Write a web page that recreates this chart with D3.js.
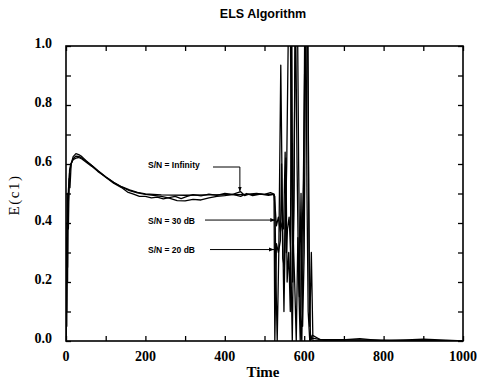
<!DOCTYPE html>
<html><head><meta charset="utf-8">
<script src="https://cdn.jsdelivr.net/npm/d3@7"></script>
<style>body{margin:0;background:#fff}svg{display:block}</style>
</head><body>
<svg id="c" width="477" height="384"></svg>
<script>
const title = "ELS Algorithm";
const xLabel = "Time";
const yLabel = "E(c1)";
const xTicks = [0,200,400,600,800,1000];
const yTicks = [0.0,0.2,0.4,0.6,0.8,1.0];

const snInf = [[0,0],[2,0.25],[4,0.42],[6,0.51],[9,0.57],[13,0.6],[18,0.618],[25,0.627],[32,0.626],[40,0.62],[50,0.61],[65,0.595],[80,0.578],[100,0.557],[120,0.538],[140,0.523],[160,0.512],[180,0.504],[200,0.499],[240,0.495],[300,0.494],[360,0.495],[420,0.496],[480,0.497],[522,0.497],[526,0.49],[529,0.2],[532,0.0],[536,0.3],[541,0.935],[545,0.45],[549,0.1],[552,0.35],[556,0.6],[560,1.05],[564,1.25],[568,0.6],[571,0.2],[574,0.5],[578,1.2],[582,1.3],[586,0.6],[590,0.1],[594,0.0],[598,0.4],[602,1.2],[606,1.4],[610,0.8],[613,0.2],[616,0.0],[620,0.02],[640,0.005],[700,0.005],[1000,0.0]];

const sn30 = [[0,0],[1,0.2],[2,0.05],[3,0.4],[4,0.2],[5,0.5],[6,0.38],[8,0.55],[10,0.52],[13,0.6],[18,0.625],[25,0.635],[32,0.632],[40,0.625],[50,0.612],[65,0.595],[80,0.577],[100,0.555],[120,0.535],[140,0.52],[155,0.505],[170,0.498],[185,0.49],[200,0.49],[215,0.485],[230,0.488],[245,0.482],[260,0.486],[275,0.49],[290,0.483],[305,0.49],[320,0.496],[340,0.492],[360,0.498],[380,0.494],[400,0.5],[420,0.497],[440,0.506],[450,0.493],[460,0.498],[480,0.5],[500,0.497],[515,0.503],[524,0.498],[527,0.45],[530,0.39],[535,0.42],[540,0.37],[544,0.4],[548,0.38],[552,0.64],[555,0.3],[558,0.38],[562,0.42],[566,0.3],[570,0.0],[574,0.45],[578,1.15],[582,0.6],[586,0.2],[590,0.0],[594,0.3],[598,0.55],[601,0.9],[604,1.2],[607,0.5],[610,0.1],[614,0.0],[620,0.01],[660,0.0],[740,0.008],[800,0.0],[900,0.006],[1000,0]];

const sn20 = [[0,0],[1,0.35],[2,0.1],[3,0.5],[4,0.25],[5,0.45],[7,0.5],[9,0.58],[12,0.6],[18,0.615],[25,0.62],[32,0.622],[40,0.617],[50,0.607],[65,0.592],[80,0.575],[100,0.556],[120,0.537],[140,0.522],[160,0.51],[180,0.502],[200,0.497],[220,0.494],[240,0.49],[260,0.484],[280,0.476],[300,0.475],[320,0.48],[340,0.478],[360,0.485],[380,0.49],[400,0.493],[420,0.497],[440,0.49],[455,0.5],[470,0.493],[490,0.498],[510,0.494],[524,0.497],[526,0.0],[530,0.33],[535,0.3],[540,0.34],[543,0.6],[546,0.28],[550,0.25],[554,0.62],[557,0.2],[561,0.3],[565,0.1],[568,1.3],[571,0.4],[576,0.2],[580,0.0],[584,0.35],[588,0.15],[592,0.5],[596,0.05],[600,0.3],[604,1.1],[608,1.5],[611,0.5],[614,0.05],[618,0.3],[622,0.0],[626,0.0],[700,0.0],[1000,0]];

const annotations = [
  {text:"S/N = Infinity", t:438, v:0.5},
  {text:"S/N = 30 dB", t:527, v:0.41},
  {text:"S/N = 20 dB", t:524, v:0.31}
];

const svg = d3.select("#c");
const L=66,R=463,T=46,B=341;
const x = d3.scaleLinear().domain([0,1000]).range([L,R]);
const y = d3.scaleLinear().domain([0,1]).range([B,T]);

const defs = svg.append("defs");
defs.append("clipPath").attr("id","clip").append("rect").attr("x",L).attr("y",T).attr("width",R-L).attr("height",B-T);
defs.append("marker").attr("id","arr").attr("viewBox","0 0 10 10").attr("refX",10).attr("refY",5)
  .attr("markerWidth",5).attr("markerHeight",5).attr("orient","auto-start-reverse")
  .append("path").attr("d","M0,1L10,5L0,9z").attr("fill","#000");

const line = d3.line().x(d=>x(d[0])).y(d=>y(d[1]));
const g = svg.append("g").attr("clip-path","url(#clip)");
[snInf, sn30, sn20].forEach(s=>{
  g.append("path").datum(s).attr("d",line).attr("fill","none").attr("stroke","#000").attr("stroke-width",1.3).attr("stroke-linejoin","round");
});

// frame and ticks
const tk=5;
const xa = d3.axisBottom(x).tickValues(d3.range(0,1001,100)).tickSize(-tk).tickFormat("");
const xt = d3.axisTop(x).tickValues(d3.range(0,1001,100)).tickSize(-tk).tickFormat("");
const yl = d3.axisLeft(y).tickValues(d3.range(0,1.001,0.1)).tickSize(-tk).tickFormat("");
const yr = d3.axisRight(y).tickValues(d3.range(0,1.001,0.1)).tickSize(-tk).tickFormat("");
[[xa,`translate(0,${B})`],[xt,`translate(0,${T})`],[yl,`translate(${L},0)`],[yr,`translate(${R},0)`]].forEach(([a,tr])=>{
  const gg = svg.append("g").attr("transform",tr).call(a);
  gg.select(".domain").remove();
  gg.selectAll("line").attr("stroke","#000").attr("stroke-width",1.3);
});
svg.append("rect").attr("x",L).attr("y",T).attr("width",R-L).attr("height",B-T).attr("fill","none").attr("stroke","#000").attr("stroke-width",1.6);

const serif = "'Liberation Serif','Times New Roman',serif";
const sans = "'Liberation Sans',Arial,sans-serif";
svg.selectAll(".xtl").data(xTicks).enter().append("text").attr("x",d=>x(d)).attr("y",B+20)
  .attr("text-anchor","middle").attr("font-family",serif).attr("font-weight","bold").attr("font-size",14).text(d=>d);
svg.selectAll(".ytl").data(yTicks).enter().append("text").attr("x",L-14).attr("y",d=>y(d)+2)
  .attr("text-anchor","end").attr("font-family",serif).attr("font-weight","bold").attr("font-size",14).text(d=>d.toFixed(1));
svg.append("text").attr("x",263).attr("y",377).attr("text-anchor","middle").attr("font-family",serif).attr("font-weight","bold").attr("font-size",15).text(xLabel);
svg.append("text").attr("transform","translate(19,195) rotate(-90)").attr("text-anchor","middle").attr("font-family",serif).attr("font-size",15).attr("letter-spacing",1.5).text(yLabel);
svg.append("text").attr("x",263).attr("y",18).attr("text-anchor","middle").attr("font-family",sans).attr("font-weight","bold").attr("font-size",12.5).text(title);

// annotations
const a0=annotations[0], a1=annotations[1], a2=annotations[2];
svg.append("text").attr("x",148).attr("y",168).attr("font-family",sans).attr("font-weight","bold").attr("font-size",8.5).text(a0.text);
svg.append("path").attr("d",`M213,167H${x(a0.t)}V${y(a0.v)-2}`).attr("fill","none").attr("stroke","#000").attr("stroke-width",1).attr("marker-end","url(#arr)");
svg.append("text").attr("x",148).attr("y",224).attr("font-family",sans).attr("font-weight","bold").attr("font-size",8.5).text(a1.text);
svg.append("path").attr("d",`M205,${y(a1.v)}H${x(a1.t)}`).attr("fill","none").attr("stroke","#000").attr("stroke-width",1).attr("marker-end","url(#arr)");
svg.append("text").attr("x",148).attr("y",253).attr("font-family",sans).attr("font-weight","bold").attr("font-size",8.5).text(a2.text);
svg.append("path").attr("d",`M210,${y(a2.v)}H${x(a2.t)}`).attr("fill","none").attr("stroke","#000").attr("stroke-width",1).attr("marker-end","url(#arr)");
</script>
</body></html>
